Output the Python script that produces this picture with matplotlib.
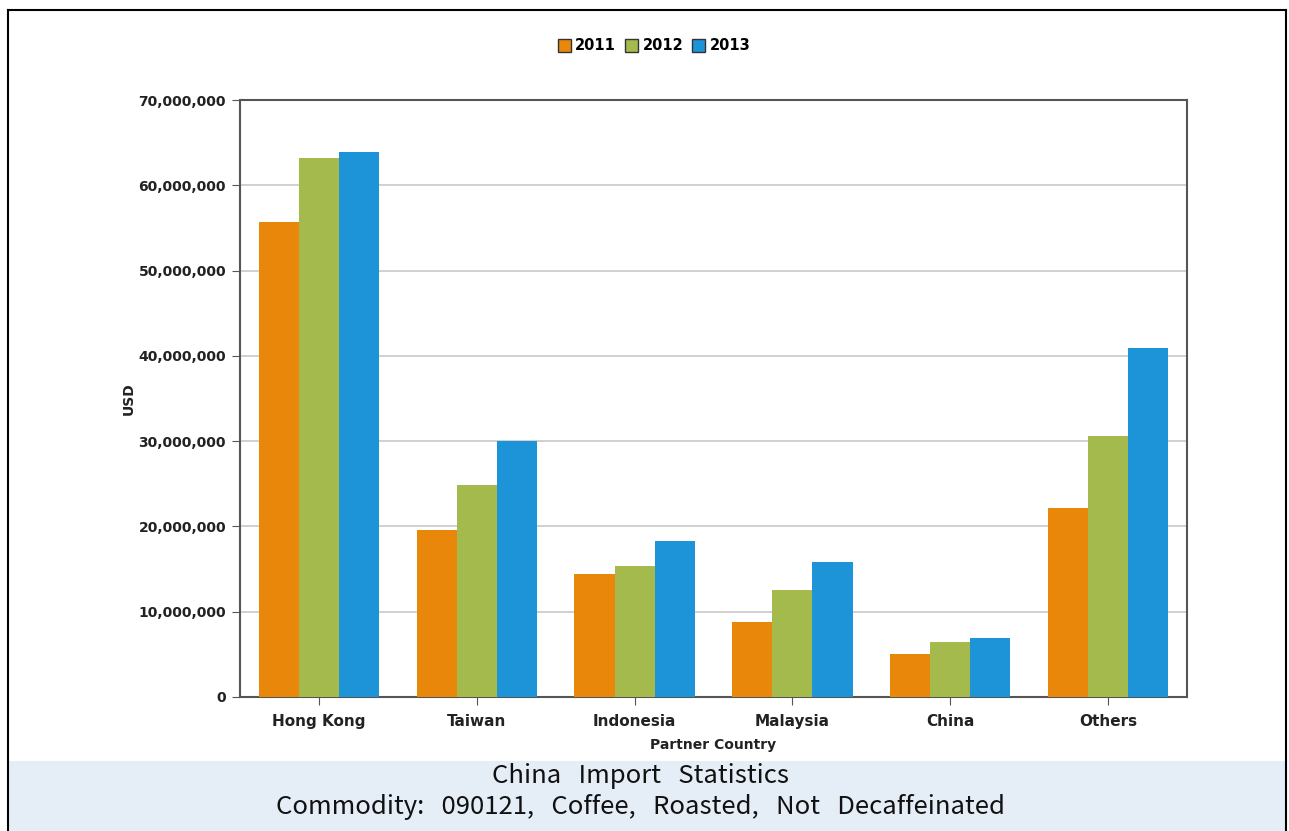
import numpy as np
import matplotlib.pyplot as plt
from matplotlib.patches import Rectangle
from matplotlib.lines import Line2D
from matplotlib.ticker import FuncFormatter

# data
countries = ["Hong Kong", "Taiwan", "Indonesia", "Malaysia", "China", "Others"]
years = ["2011", "2012", "2013"]
v2011 = [55.7e6, 19.6e6, 14.4e6, 8.8e6, 5.0e6, 22.2e6]
v2012 = [63.2e6, 24.9e6, 15.4e6, 12.5e6, 6.5e6, 30.6e6]
v2013 = [63.9e6, 30.0e6, 18.3e6, 15.8e6, 6.9e6, 40.9e6]
colors = ["#E8870A", "#A5BA4D", "#1E94D8"]

fig = plt.figure(figsize=(12.89, 8.31), dpi=100)

# caption band at bottom
fig.patches.append(Rectangle((7.5 / 1289, 0), (1286 - 7.5) / 1289, 1 - 761 / 831,
                             transform=fig.transFigure,
                             facecolor="#E5EDF7", edgecolor="none", zorder=0))
# outer frame (left, top, right)
for xs, ys in [([7.5 / 1289, 7.5 / 1289], [0, 1 - 10 / 831]),
               ([7.5 / 1289, 1286 / 1289], [1 - 10 / 831, 1 - 10 / 831]),
               ([1286 / 1289, 1286 / 1289], [0, 1 - 10 / 831])]:
    fig.lines.append(Line2D(xs, ys, transform=fig.transFigure, color="black", lw=1.5))

ax = fig.add_axes([240 / 1289, 1 - 697 / 831, 947 / 1289, 597 / 831])

x = np.arange(len(countries))
w = 0.254
for i, (vals, c, yr) in enumerate(zip([v2011, v2012, v2013], colors, years)):
    ax.bar(x + (i - 1) * w, vals, width=w, color=c, label=yr, zorder=3)

ax.set_xlim(-0.5, len(countries) - 0.5)
ax.set_ylim(0, 70e6)
ax.set_yticks(np.arange(0, 70e6 + 1, 10e6))
ax.yaxis.set_major_formatter(FuncFormatter(lambda v, p: f"{int(v):,}"))
ax.set_xticks(x)
ax.set_xticklabels(countries)
ax.grid(axis="y", color="#C8C8C8", lw=1.2, zorder=0)

for s in ax.spines.values():
    s.set_color("#555555")
    s.set_linewidth(1.5)
ax.tick_params(axis="y", length=6, color="#555555", labelsize=10, labelcolor="#222222", pad=4)
ax.tick_params(axis="x", length=6, color="#555555", labelsize=11, labelcolor="#222222", pad=6)
for lab in ax.get_yticklabels() + ax.get_xticklabels():
    lab.set_fontweight("bold")

ax.set_ylabel("USD", fontsize=10, fontweight="bold", color="#222222", labelpad=2)
ax.set_xlabel("Partner Country", fontsize=10, fontweight="bold", color="#222222", labelpad=7)

leg = fig.legend(loc="center", bbox_to_anchor=(654 / 1289, 1 - 46 / 831), ncol=3,
                 frameon=False, handlelength=0.9, handleheight=0.9,
                 handletextpad=0.3, columnspacing=0.6, prop={"weight": "bold", "size": 10.5})
for h in leg.legend_handles:
    h.set_edgecolor("#333333")
    h.set_linewidth(1)

fig.text(0.497, 1 - 776 / 831, "China   Import   Statistics", ha="center", va="center",
         fontsize=18.5, family="Noto Sans CJK KR", color="#111111")
fig.text(0.497, 1 - 807 / 831, "Commodity:   090121,   Coffee,   Roasted,   Not   Decaffeinated",
         ha="center", va="center", fontsize=18.5, family="Noto Sans CJK KR", color="#111111")

fig.savefig("out.png", dpi=100)
